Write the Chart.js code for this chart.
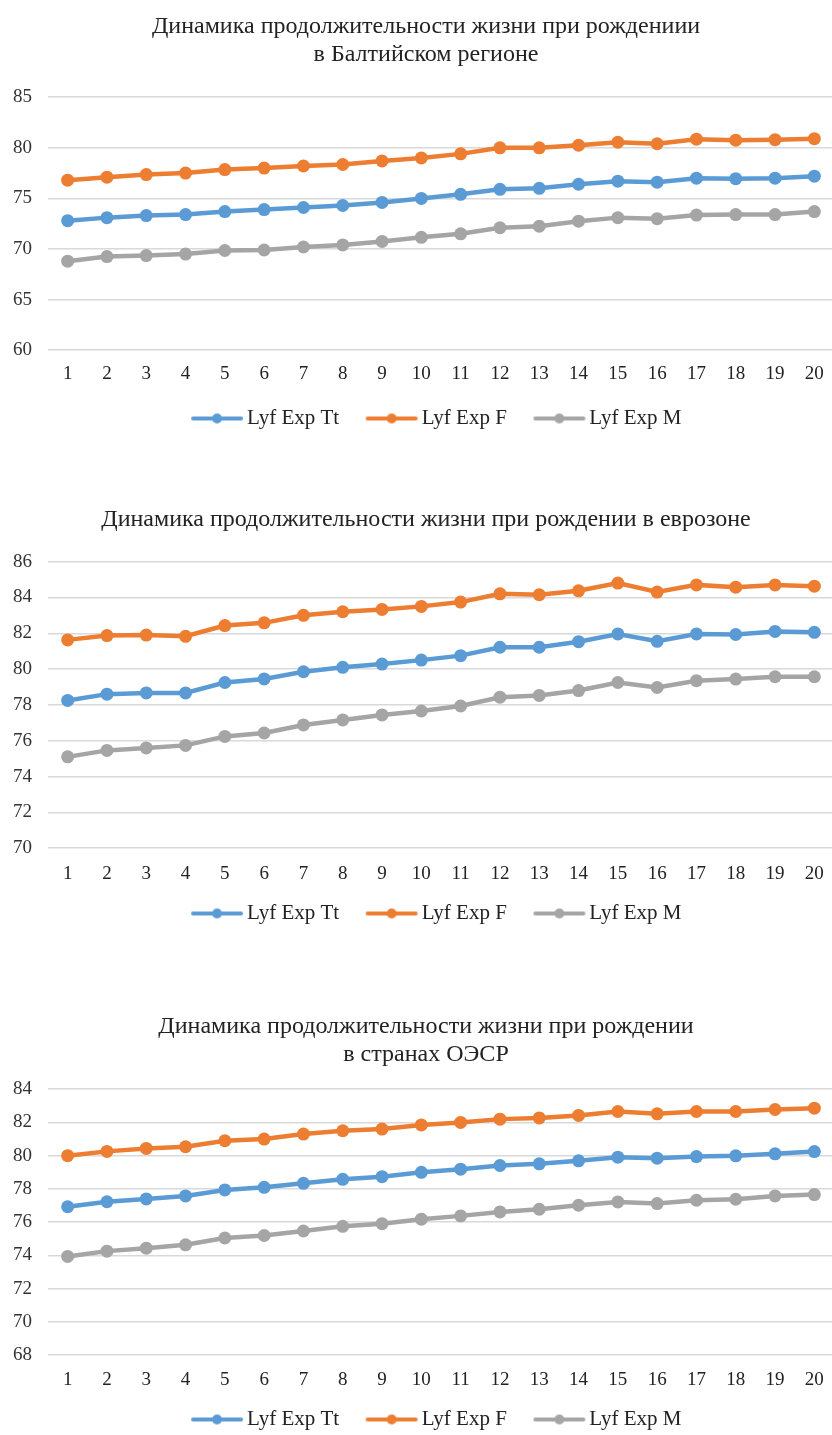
<!DOCTYPE html>
<html>
<head>
<meta charset="utf-8">
<script src="https://cdn.jsdelivr.net/npm/chart.js@4"></script>
<style>
html,body{margin:0;background:#fff;overflow:hidden;}
body{width:832px;height:1435px;position:relative;}
.box{position:absolute;left:0;width:852px;}
</style>
</head>
<body>
<div class="box" style="top:0;height:439px"><canvas id="c1"></canvas></div>
<div class="box" style="top:490px;height:444px"><canvas id="c2"></canvas></div>
<div class="box" style="top:995px;height:445px"><canvas id="c3"></canvas></div>
<script>
const years = ["1","2","3","4","5","6","7","8","9","10","11","12","13","14","15","16","17","18","19","20"];
const seriesNames = ["Lyf Exp Tt","Lyf Exp F","Lyf Exp M"];

const balticTt = [72.8,73.1,73.3,73.4,73.7,73.9,74.1,74.3,74.6,75.0,75.4,75.9,76.0,76.4,76.7,76.6,77.0,76.95,77.0,77.2];
const balticF  = [76.8,77.1,77.35,77.5,77.85,78.0,78.2,78.35,78.7,79.0,79.4,80.0,80.0,80.25,80.55,80.4,80.85,80.75,80.8,80.9];
const balticM  = [68.8,69.25,69.35,69.5,69.85,69.9,70.2,70.4,70.75,71.15,71.5,72.1,72.25,72.75,73.1,73.0,73.35,73.4,73.4,73.7];

const euroTt = [78.25,78.6,78.67,78.67,79.25,79.45,79.85,80.1,80.28,80.5,80.75,81.22,81.22,81.53,81.96,81.55,81.96,81.93,82.1,82.05];
const euroF  = [81.63,81.87,81.9,81.83,82.43,82.58,83.0,83.2,83.33,83.5,83.74,84.2,84.15,84.37,84.8,84.3,84.7,84.57,84.7,84.63];
const euroM  = [75.1,75.46,75.6,75.74,76.24,76.43,76.88,77.16,77.44,77.66,77.94,78.43,78.53,78.8,79.25,78.97,79.35,79.44,79.57,79.57];

const oecdTt = [76.93,77.23,77.4,77.58,77.94,78.1,78.34,78.58,78.74,79.0,79.19,79.41,79.51,79.69,79.91,79.85,79.95,79.99,80.11,80.25];
const oecdF  = [80.0,80.26,80.44,80.54,80.9,81.0,81.3,81.5,81.6,81.85,82.0,82.2,82.27,82.42,82.66,82.52,82.66,82.66,82.78,82.86];
const oecdM  = [73.94,74.26,74.44,74.64,75.05,75.2,75.47,75.75,75.91,76.18,76.38,76.62,76.78,77.02,77.22,77.12,77.32,77.38,77.58,77.66];

const colors = ["#5B9BD5","#ED7D31","#A5A5A5"];
const font = "'Liberation Serif', 'DejaVu Serif', serif";

// legend mark: a short line with a dot, shifted right so it sits close to the text
function legendMark(color){
const c = document.createElement("canvas");
c.width = 83;
c.height = 14;
const ctx = c.getContext("2d");
ctx.strokeStyle = color;
ctx.lineWidth = 4;
ctx.lineCap = "round";
ctx.beginPath();
ctx.moveTo(31,7);
ctx.lineTo(79,7);
ctx.stroke();
ctx.fillStyle = color;
ctx.beginPath();
ctx.arc(55,7,5,0,Math.PI*2);
ctx.fill();
return c;
}

const marks = colors.map(legendMark);

function makeChart(id, title, values, yMin, yMax, yStep, padTop, titleGap, tickPad, axisExtra){
new Chart(document.getElementById(id), {
type:"line",
data:{
labels:years,
datasets:values.map((v,i)=>({
label:seriesNames[i],
data:v,
borderColor:colors[i],
backgroundColor:colors[i],
borderWidth:4.5,
pointRadius:6.5,
pointBackgroundColor:colors[i],
pointBorderWidth:0,
tension:0
}))
},
options:{
responsive:true,
maintainAspectRatio:false,
animation:false,
layout:{padding:{top:padTop,left:0,right:0,bottom:0}},
plugins:{
title:{
display:true,
text:title,
color:"#222",
font:{family:font,size:24,weight:"normal",lineHeight:1.15},
padding:{top:0,bottom:titleGap}
},
legend:{
position:"bottom",
labels:{
color:"#222",
font:{family:font,size:21},
usePointStyle:true,
pointStyleWidth:66,
padding:6,
generateLabels:(chart)=>{
const items = Chart.defaults.plugins.legend.labels.generateLabels(chart);
items.forEach((it,i)=>{ it.pointStyle = marks[i]; });
return items;
}
}
},
tooltip:{enabled:false}
},
scales:{
x:{
offset:true,
grid:{display:false,drawTicks:false},
border:{display:false},
ticks:{color:"#222",font:{family:font,size:19},padding:tickPad,maxRotation:0,autoSkip:false},
afterFit:(s)=>{ s.height += axisExtra; }
},
y:{
min:yMin,
max:yMax,
ticks:{stepSize:yStep,color:"#333",font:{family:font,size:19},padding:16},
grid:{color:"#d9d9d9",lineWidth:1.5,drawTicks:false},
border:{display:false},
afterFit:(s)=>{ s.width = 48; }
},
// empty right strip so the title and legend centre like the original
yRight:{
position:"right",
display:true,
ticks:{display:false},
grid:{display:false,drawTicks:false},
border:{display:false},
afterFit:(s)=>{ s.width = 18; }
}
}
}
});
}

makeChart("c1", ["Динамика продолжительности жизни при рождениии","в Балтийском регионе"], [balticTt,balticF,balticM], 60, 85, 5, 13, 29, 12, 5);
makeChart("c2", "Динамика продолжительности жизни при рождении в еврозоне", [euroTt,euroF,euroM], 70, 86, 2, 16, 28, 14, -2);
makeChart("c3", ["Динамика продолжительности жизни при рождении","в странах ОЭСР"], [oecdTt,oecdF,oecdM], 68, 84, 2, 18, 21, 13, -1);
</script>
</body>
</html>
